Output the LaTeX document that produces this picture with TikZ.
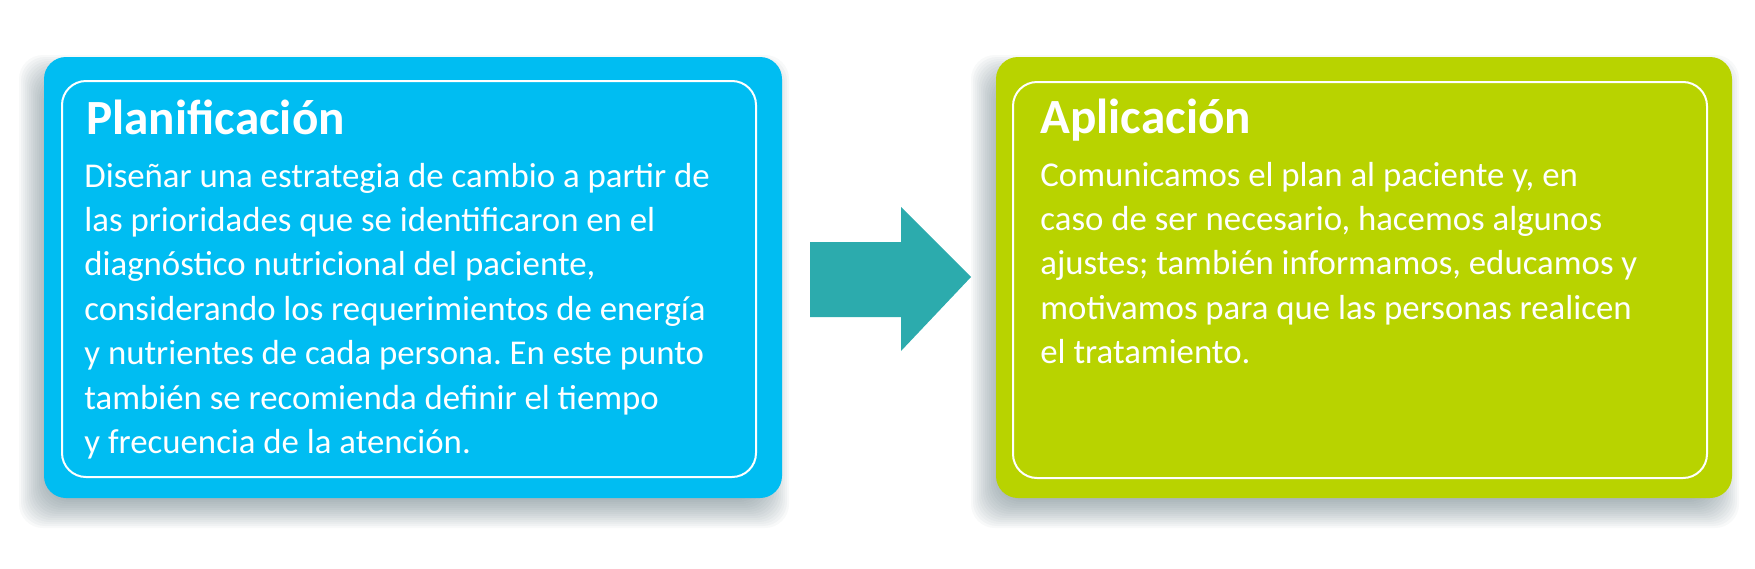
\documentclass[tikz,border=0pt]{standalone}
\usepackage{fontspec}
\setmainfont{Carlito}
\frenchspacing
\definecolor{boxblue}{RGB}{0,189,242}
\definecolor{boxgreen}{RGB}{184,211,0}
\definecolor{arrowteal}{RGB}{44,171,173}
\definecolor{shadowc}{RGB}{70,95,105}
\tikzset{
  shadowlayer/.style={fill=shadowc, opacity=0.04, rounded corners=12pt},
  outerbox/.style={rounded corners=11pt},
  innerbox/.style={draw=white, line width=1pt, rounded corners=12pt},
  titletext/.style={anchor=base west, inner sep=0pt, text=white, font=\fontsize{24.6}{28}\selectfont\bfseries},
  bodytext/.style={anchor=base west, inner sep=0pt, text=white, font=\fontsize{17.4}{22.2}\selectfont},
}
\begin{document}
\begin{tikzpicture}[x=0.5pt,y=-0.5pt]
\useasboundingbox (0,0) rectangle (1755,568);
% shadows
\foreach \i in {-16,-14,...,16}{
  \fill[shadowlayer] (44-9-\i,57+14-\i) rectangle (782-9+\i,498+14+\i);
  \fill[shadowlayer] (996-9-\i,57+14-\i) rectangle (1732-9+\i,498+14+\i);
}
% boxes
\fill[boxblue, outerbox] (44,57) rectangle (782,498);
\draw[innerbox] (62,81) rectangle (756,477);
\fill[boxgreen, outerbox] (996,57) rectangle (1732,498);
\draw[innerbox] (1013,82) rectangle (1707,478);
% arrow
\fill[arrowteal] (810,242) -- (901,242) -- (901,207) -- (971,277) -- (901,351) -- (901,317) -- (810,317) -- cycle;
% texts
\node[titletext] (t1) at (86,134) {Planificación};
\node[bodytext] (b1) at (84,187) {\begin{tabular}[t]{@{}l@{}}Diseñar una estrategia de cambio a partir de\\
las prioridades que se identificaron en el\\
diagnóstico nutricional del paciente,\\
considerando los requerimientos de energía\\
y nutrientes de cada persona. En este punto\\
también se recomienda definir el tiempo\\
y frecuencia de la atención.\end{tabular}};
\node[titletext] (t2) at (1040,133) {Aplicación};
\node[bodytext] (b2) at (1040,186) {\begin{tabular}[t]{@{}l@{}}Comunicamos el plan al paciente y, en\\
caso de ser necesario, hacemos algunos\\
ajustes; también informamos, educamos y\\
motivamos para que las personas realicen\\
el tratamiento.\end{tabular}};
\end{tikzpicture}
\end{document}
